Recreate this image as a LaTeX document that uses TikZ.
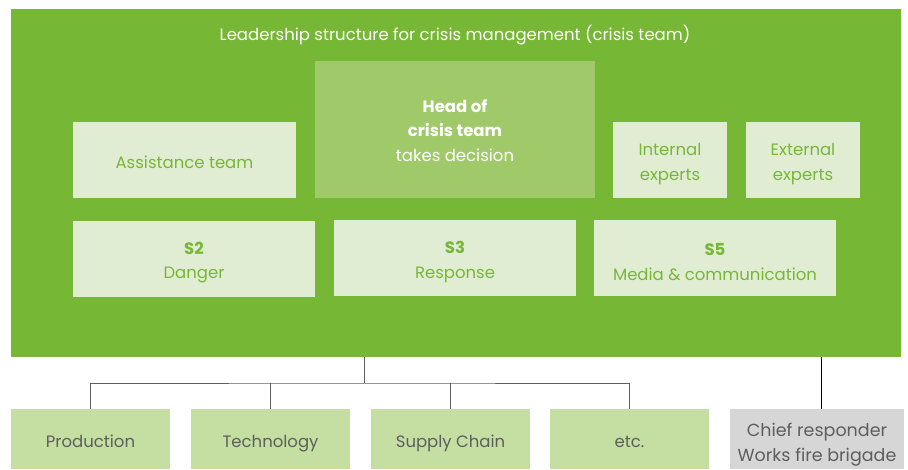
\documentclass[tikz,border=0pt]{standalone}
\usepackage{fontspec}
\setmainfont{Poppins}
\definecolor{crisisgreen}{HTML}{77B736}
\definecolor{headgreen}{HTML}{A0C96A}
\definecolor{palegreen}{HTML}{E1EDD3}
\definecolor{unitgreen}{HTML}{C5DEA2}
\definecolor{chiefgray}{HTML}{D6D6D6}
\definecolor{textgray}{HTML}{5E5E5E}

\begin{document}
\begin{tikzpicture}[x=1pt,y=-1pt,
    box/.style={inner sep=0pt, align=center, font=\fontsize{16.5}{24.5}\selectfont},
    staff/.style={box, fill=palegreen, text=crisisgreen},
    unit/.style={box, fill=unitgreen, text=textgray, minimum width=159pt, minimum height=60pt},
    oneline/.style={text height=17pt, text depth=0pt},
    twoline/.style={text height=44.5pt},
    link/.style={draw=textgray, line width=0.9pt}]
    \useasboundingbox (0,0) rectangle (908,469);
    \node[box, fill=crisisgreen, minimum width=890pt, minimum height=348pt] (crisis) at (456,183) {};
    \node[box, oneline, text=white] (title) at (455,32) {Leadership structure for crisis management (crisis team)};
    \node[box, fill=headgreen, text=white, text height=63.5pt, minimum width=280pt, minimum height=137pt] (head) at (455,129.5) {\textbf{Head of}\\\textbf{crisis team}\\takes decision};
    \node[staff, oneline, minimum width=223pt, minimum height=76pt] (assist) at (184.5,160) {Assistance team};
    \node[staff, twoline, minimum width=114pt, minimum height=76pt] (intern) at (670,160) {Internal\\experts};
    \node[staff, twoline, minimum width=114pt, minimum height=76pt] (extern) at (803,160) {External\\experts};
    \node[staff, twoline, minimum width=242pt, minimum height=76pt] (danger) at (194,258.5) {\textbf{S2}\\Danger};
    \node[staff, twoline, minimum width=242pt, minimum height=76pt] (response) at (455,258) {\textbf{S3}\\Response};
    \node[staff, twoline, minimum width=242pt, minimum height=76pt] (media) at (715,258) {\textbf{S5}\\Media \& communication};
    \node[unit, oneline] (prod) at (90.5,439) {Production};
    \node[unit, oneline] (tech) at (270.5,439) {Technology};
    \node[unit, oneline] (supply) at (450.5,439) {Supply Chain};
    \node[unit, oneline] (etc) at (629.5,439) {etc.};
    \node[unit, fill=chiefgray, text height=49pt, minimum width=174pt, font=\fontsize{17.5}{25}\selectfont] (chief) at (817,439) {Chief responder\\Works fire brigade};
    \coordinate (hub) at (364,383);
    \draw[link] (crisis.south -| hub) -- (hub);
    \draw[link] (prod.north) |- (hub) -| (etc.north);
    \draw[link] (tech.north) -- (tech.north |- hub);
    \draw[link] (supply.north) -- (supply.north |- hub);
    \draw[line width=0.9pt] ([xshift=4pt]chief.north) -- ([xshift=4pt]chief.north |- crisis.south);
\end{tikzpicture}
\end{document}
